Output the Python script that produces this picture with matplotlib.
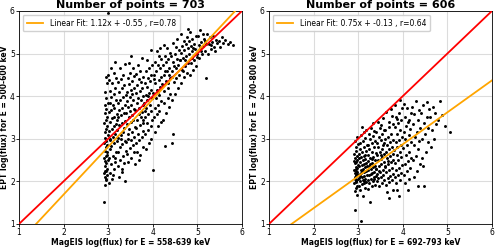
"""
MagEIS vs EPT log(flux) scatter, two energy channels, 1:1 line + linear fit
"""

import numpy as np
import matplotlib
matplotlib.use('Agg')
import matplotlib.pyplot as plt

# left panel: (MagEIS, EPT) log flux
pts_left = [
 (2.91,1.52),(2.92,1.92),(2.95,2.02),(2.93,2.1),(2.97,2.15),(2.91,2.2),(2.94,2.24),(2.98,2.3),(2.92,2.35),(2.96,2.42),
 (2.93,2.48),(2.99,2.5),(2.91,2.55),(2.95,2.6),(2.97,2.68),(2.92,2.72),(2.94,2.8),(2.98,2.85),(2.91,2.9),(2.96,2.95),
 (2.93,3.02),(2.99,3.08),(2.92,3.15),(2.95,3.22),(2.97,3.3),(2.91,3.38),(2.94,3.45),(2.98,3.52),(2.92,3.6),(2.96,3.7),
 (2.93,3.78),(2.99,3.85),(2.95,3.95),(2.92,4.1),(2.97,4.3),(2.94,4.45),(2.99,4.5),(2.93,2.25),(2.96,2.05),(2.98,2.62),
 (3.02,1.95),(3.08,2.05),(3.04,2.2),(3.12,2.3),(3.06,2.4),(3.15,2.45),(3.01,2.55),(3.1,2.6),(3.18,2.7),(3.03,2.75),
 (3.07,2.82),(3.14,2.9),(3.19,2.95),(3.05,3.0),(3.11,3.05),(3.16,3.12),(3.02,3.18),(3.09,3.22),(3.13,3.3),(3.17,3.35),
 (3.04,3.4),(3.08,3.48),(3.12,3.52),(3.19,3.58),(3.01,3.62),(3.06,3.68),(3.14,3.72),(3.1,3.8),(3.03,3.85),(3.17,3.9),
 (3.07,3.98),(3.12,4.05),(3.05,4.12),(3.15,4.2),(3.09,4.3),(3.02,4.38),(3.18,4.42),(3.13,4.55),(3.06,4.65),(3.15,4.8),
 (3.0,5.95),(3.11,2.15),(3.16,2.55),(3.04,2.98),(3.19,3.45),
 (3.38,2.0),(3.24,2.1),(3.3,2.22),(3.22,2.35),(3.35,2.42),(3.27,2.5),(3.33,2.6),(3.21,2.68),(3.39,2.72),(3.26,2.8),
 (3.31,2.88),(3.37,2.95),(3.23,3.02),(3.29,3.08),(3.34,3.15),(3.2,3.2),(3.36,3.25),(3.25,3.32),(3.32,3.38),(3.38,3.42),
 (3.22,3.5),(3.28,3.55),(3.35,3.6),(3.24,3.68),(3.3,3.72),(3.37,3.78),(3.21,3.85),(3.27,3.9),(3.33,3.98),(3.39,4.02),
 (3.25,4.1),(3.31,4.18),(3.36,4.25),(3.23,4.32),(3.29,4.4),(3.34,4.5),(3.26,4.67),(3.38,4.75),(3.32,2.3),(3.28,3.0),
 (3.45,2.45),(3.52,2.55),(3.42,2.65),(3.58,2.7),(3.48,2.78),(3.55,2.85),(3.41,2.92),(3.5,2.98),(3.57,3.05),(3.44,3.1),
 (3.53,3.15),(3.46,3.22),(3.59,3.28),(3.43,3.35),(3.51,3.4),(3.56,3.45),(3.47,3.5),(3.54,3.55),(3.41,3.6),(3.49,3.65),
 (3.58,3.7),(3.45,3.75),(3.52,3.8),(3.43,3.88),(3.56,3.92),(3.48,3.98),(3.54,4.05),(3.42,4.1),(3.5,4.15),(3.58,4.2),
 (3.46,4.28),(3.53,4.35),(3.44,4.42),(3.57,4.48),(3.49,4.55),(3.55,4.65),(3.47,4.78),(3.52,4.95),(3.59,2.4),(3.44,3.0),
 (3.64,2.7),(3.72,2.62),(3.78,2.8),(3.62,2.9),(3.69,2.98),(3.75,3.05),(3.66,3.12),(3.79,3.18),(3.63,3.25),(3.71,3.32),
 (3.77,3.38),(3.65,3.45),(3.73,3.5),(3.68,3.58),(3.76,3.62),(3.61,3.68),(3.7,3.72),(3.79,3.78),(3.64,3.85),(3.74,3.9),
 (3.67,3.95),(3.78,4.0),(3.62,4.08),(3.71,4.12),(3.76,4.2),(3.65,4.25),(3.73,4.32),(3.69,4.4),(3.77,4.45),(3.63,4.52),
 (3.72,4.6),(3.75,4.9),(3.66,4.72),(3.79,3.45),(3.7,2.5),
 (3.84,2.75),(3.92,2.9),(3.97,3.0),(3.82,3.1),(3.89,3.2),(3.95,3.3),(3.86,3.38),(3.99,3.45),(3.83,3.52),(3.9,3.58),
 (3.96,3.65),(3.85,3.72),(3.93,3.78),(3.81,3.85),(3.88,3.9),(3.98,3.95),(3.84,4.02),(3.91,4.08),(3.95,4.15),(3.87,4.22),
 (3.82,4.3),(3.94,4.35),(3.89,4.42),(3.97,4.5),(3.85,4.58),(3.92,4.65),(3.99,4.72),(3.88,4.85),(3.95,5.08),(4.0,2.27),
 (3.83,3.65),(3.9,4.0),
 (4.05,3.15),(4.12,3.3),(4.18,3.4),(4.02,3.5),(4.09,3.58),(4.15,3.65),(4.04,3.72),(4.11,3.8),(4.19,3.88),(4.07,3.95),
 (4.14,4.02),(4.01,4.08),(4.1,4.15),(4.17,4.22),(4.06,4.3),(4.13,4.38),(4.19,4.45),(4.03,4.5),(4.08,4.58),(4.16,4.65),
 (4.11,4.72),(4.05,4.8),(4.18,4.88),(4.14,4.95),(4.09,5.05),(4.17,5.12),(4.02,4.4),(4.12,4.1),
 (4.27,2.84),(4.22,3.45),(4.3,3.6),(4.37,3.75),(4.24,3.85),(4.33,3.95),(4.39,4.05),(4.26,4.12),(4.35,4.2),(4.21,4.28),
 (4.29,4.35),(4.38,4.42),(4.25,4.5),(4.32,4.58),(4.36,4.65),(4.23,4.72),(4.3,4.8),(4.34,4.88),(4.27,4.95),(4.39,5.02),
 (4.31,5.14),(4.24,5.2),(4.36,4.5),(4.28,4.6),(4.33,4.3),
 (4.43,2.9),(4.45,3.12),(4.42,3.9),(4.5,4.05),(4.56,4.2),(4.47,4.32),(4.53,4.42),(4.59,4.5),(4.44,4.58),(4.51,4.65),
 (4.57,4.72),(4.46,4.8),(4.54,4.88),(4.41,4.95),(4.49,5.0),(4.58,5.08),(4.52,5.15),(4.45,5.25),(4.55,5.35),(4.48,4.7),
 (4.6,4.85),(4.42,4.45),
 (4.63,4.3),(4.7,4.45),(4.77,4.55),(4.65,4.62),(4.72,4.7),(4.79,4.78),(4.62,4.85),(4.68,4.9),(4.75,4.95),(4.64,5.02),
 (4.71,5.08),(4.78,5.12),(4.66,5.18),(4.74,5.22),(4.69,5.3),(4.76,5.38),(4.63,5.45),(4.8,5.58),(4.73,4.85),(4.67,4.6),
 (4.83,4.5),(4.9,4.62),(4.97,4.7),(4.85,4.78),(4.92,4.85),(4.99,4.92),(4.82,4.98),(4.88,5.05),(4.95,5.1),(4.86,5.18),
 (4.93,5.22),(4.81,5.3),(4.89,5.35),(4.96,5.42),(4.84,5.5),(4.91,5.12),(4.98,5.0),(4.87,4.9),
 (5.06,5.56),(5.03,4.9),(5.1,4.98),(5.17,5.05),(5.05,5.12),(5.12,5.18),(5.19,5.22),(5.08,5.28),(5.15,5.35),(5.02,5.4),
 (5.13,5.45),(5.2,4.42),(5.09,5.05),(5.16,5.3),(5.04,5.2),
 (5.23,5.0),(5.3,5.1),(5.38,5.15),(5.25,5.22),(5.33,5.28),(5.41,5.32),(5.28,5.38),(5.36,5.4),(5.22,5.45),(5.43,5.25),
 (5.31,5.2),(5.39,5.05),
 (5.48,5.3),(5.55,5.38),(5.62,5.32),(5.68,5.22),(5.74,5.28),(5.8,5.2),(5.58,5.25),(5.5,5.15),
]

# right panel
pts_right = [
 (2.93,1.32),(2.97,1.67),(2.92,1.78),(2.95,1.85),(2.98,1.9),(2.91,1.95),(2.94,2.0),(2.96,2.03),(2.99,2.06),(2.92,2.1),
 (2.95,2.13),(2.97,2.17),(2.93,2.2),(2.98,2.23),(2.91,2.27),(2.96,2.3),(2.94,2.34),(2.99,2.38),(2.92,2.42),(2.95,2.46),
 (2.97,2.5),(2.93,2.55),(2.98,2.6),(2.91,2.65),(2.96,2.72),(2.94,2.8),(2.99,2.88),(2.92,2.95),(2.97,3.05),(2.95,2.15),
 (2.93,2.05),(2.98,2.32),(2.91,2.48),(2.96,1.98),(2.94,2.25),
 (3.07,1.08),(3.1,1.65),(3.04,1.8),(3.15,1.85),(3.02,1.9),(3.08,1.93),(3.12,1.96),(3.18,1.98),(3.05,2.0),(3.11,2.03),
 (3.16,2.05),(3.01,2.08),(3.09,2.1),(3.14,2.12),(3.19,2.15),(3.03,2.17),(3.07,2.2),(3.13,2.22),(3.17,2.25),(3.06,2.27),
 (3.1,2.3),(3.15,2.33),(3.02,2.35),(3.08,2.38),(3.12,2.4),(3.18,2.43),(3.04,2.46),(3.11,2.5),(3.16,2.53),(3.06,2.56),
 (3.13,2.6),(3.01,2.64),(3.09,2.68),(3.17,2.72),(3.05,2.76),(3.12,2.8),(3.19,2.85),(3.03,2.9),(3.1,2.95),(3.15,3.02),
 (3.07,3.08),(3.13,3.15),(3.09,3.28),(3.18,3.2),(3.04,2.12),(3.14,2.0),(3.08,2.25),(3.19,2.35),(3.02,2.55),(3.16,2.62),
 (3.26,1.51),(3.23,1.82),(3.3,1.88),(3.37,1.92),(3.25,1.96),(3.33,2.0),(3.21,2.03),(3.28,2.06),(3.35,2.1),(3.39,2.13),
 (3.24,2.16),(3.31,2.2),(3.36,2.23),(3.22,2.26),(3.29,2.3),(3.34,2.33),(3.38,2.36),(3.26,2.4),(3.32,2.44),(3.21,2.48),
 (3.37,2.5),(3.27,2.54),(3.33,2.58),(3.23,2.62),(3.39,2.66),(3.3,2.7),(3.25,2.75),(3.35,2.8),(3.22,2.85),(3.31,2.9),
 (3.38,2.95),(3.27,3.0),(3.34,3.06),(3.24,3.12),(3.36,3.18),(3.29,3.25),(3.33,3.38),(3.28,2.18),(3.36,2.05),(3.24,2.35),
 (3.32,2.52),(3.39,2.28),
 (3.47,1.88),(3.53,1.95),(3.42,2.0),(3.58,2.03),(3.45,2.07),(3.51,2.1),(3.56,2.14),(3.43,2.18),(3.49,2.22),(3.55,2.26),
 (3.41,2.3),(3.59,2.33),(3.46,2.37),(3.52,2.41),(3.57,2.45),(3.44,2.49),(3.5,2.53),(3.54,2.57),(3.42,2.61),(3.58,2.65),
 (3.48,2.7),(3.53,2.75),(3.45,2.8),(3.56,2.85),(3.43,2.9),(3.51,2.96),(3.59,3.0),(3.47,3.05),(3.54,3.1),(3.41,3.15),
 (3.57,3.2),(3.49,3.26),(3.51,3.33),(3.44,3.4),(3.55,3.48),(3.46,2.25),(3.52,2.62),(3.58,2.9),
 (3.64,1.74),(3.7,1.6),(3.78,1.8),(3.62,1.92),(3.68,1.98),(3.75,2.03),(3.66,2.08),(3.72,2.12),(3.79,2.17),(3.63,2.22),
 (3.7,2.27),(3.76,2.31),(3.61,2.36),(3.67,2.4),(3.74,2.45),(3.79,2.5),(3.65,2.55),(3.71,2.6),(3.77,2.65),(3.62,2.7),
 (3.69,2.75),(3.75,2.8),(3.64,2.86),(3.72,2.92),(3.78,2.98),(3.66,3.05),(3.73,3.12),(3.61,3.2),(3.7,3.28),(3.76,3.53),
 (3.68,3.4),(3.63,3.62),(3.74,3.7),(3.79,3.35),(3.67,2.48),
 (3.91,1.65),(3.87,1.8),(3.84,1.95),(3.93,2.02),(3.82,2.1),(3.89,2.15),(3.96,2.2),(3.85,2.26),(3.92,2.32),(3.99,2.38),
 (3.83,2.44),(3.9,2.5),(3.97,2.56),(3.86,2.62),(3.94,2.68),(3.81,2.74),(3.88,2.8),(3.95,2.86),(3.84,2.92),(3.91,2.98),
 (3.98,3.05),(3.87,3.12),(3.93,3.2),(3.82,3.28),(3.89,3.36),(3.96,3.44),(3.85,3.52),(3.92,3.6),(3.87,3.47),(3.99,3.72),
 (3.94,3.92),(3.83,3.8),
 (4.12,1.8),(4.05,1.95),(4.15,2.05),(4.02,2.15),(4.09,2.25),(4.17,2.32),(4.04,2.4),(4.11,2.48),(4.19,2.55),(4.07,2.62),
 (4.14,2.7),(4.01,2.78),(4.1,2.85),(4.18,2.92),(4.06,3.0),(4.13,3.08),(4.03,3.15),(4.16,3.22),(4.08,3.3),(4.12,3.4),
 (4.05,3.5),(4.18,3.6),(4.1,3.72),(4.02,3.82),(4.15,3.45),
 (4.34,1.9),(4.25,2.1),(4.32,2.25),(4.38,2.4),(4.22,2.5),(4.29,2.6),(4.34,2.77),(4.24,2.85),(4.37,2.95),(4.27,3.05),
 (4.31,3.15),(4.39,3.25),(4.23,3.35),(4.33,3.45),(4.26,3.58),(4.36,3.68),(4.3,3.88),(4.21,3.75),
 (4.48,1.9),(4.45,2.35),(4.42,2.55),(4.52,2.7),(4.57,2.93),(4.44,3.0),(4.5,3.12),(4.56,3.25),(4.47,3.38),(4.54,3.5),
 (4.41,3.6),(4.59,3.7),(4.54,3.86),(4.46,3.78),
 (4.63,2.8),(4.7,3.0),(4.66,3.2),(4.75,3.35),(4.62,3.5),(4.72,3.6),(4.8,3.45),(4.68,3.75),(4.83,3.88),(4.95,3.3),
 (5.06,3.16),(4.88,3.55),
]

n_points = [703, 606]
fit_slope = [1.12, 0.75]
fit_icpt = [-0.55, -0.13]
fit_r = [0.78, 0.64]
x_labels = ['MagEIS log(flux) for E = 558-639 keV', 'MagEIS log(flux) for E = 692-793 keV']
y_labels = ['EPT log(flux) for E = 500-600 keV', 'EPT log(flux) for E = 700-800 keV']
ticks = [1, 2, 3, 4, 5, 6]


def main():
    fig = plt.figure(figsize=(5.0, 2.48), dpi=100)
    axes = [fig.add_axes([0.038, 0.097, 0.446, 0.859]),
            fig.add_axes([0.538, 0.097, 0.446, 0.859])]

    line = np.array([1.0, 6.0])
    for i, (ax, pts) in enumerate(zip(axes, [pts_left, pts_right])):
        pts = np.array(pts)
        ax.grid(True, color='#dcdcdc', lw=0.8, zorder=0)
        ax.scatter(pts[:, 0], pts[:, 1], s=4.5, c='black', lw=0, zorder=2)
        ax.plot(line, line, color='red', lw=1.3, zorder=3)
        ax.plot(line, fit_slope[i] * line + fit_icpt[i], color='orange', lw=1.3, zorder=3,
                label='Linear Fit: %.2fx + %.2f , r=%.2f' % (fit_slope[i], fit_icpt[i], fit_r[i]))
        ax.set_xlim(1, 6)
        ax.set_ylim(1, 6)
        ax.set_xticks(ticks)
        ax.set_yticks(ticks)
        ax.tick_params(labelsize=5.5, length=2, width=0.6, pad=1)
        for sp in ax.spines.values():
            sp.set_linewidth(0.6)
        ax.set_title('Number of points = %d' % n_points[i], fontsize=8, fontweight='bold', pad=2)
        ax.set_xlabel(x_labels[i], fontsize=5.5, fontweight='bold', labelpad=0.5)
        ax.set_ylabel(y_labels[i], fontsize=5.5, fontweight='bold', labelpad=1)
        ax.legend(loc='upper left', fontsize=5.5, handlelength=2.2, borderpad=0.5, framealpha=0.9)

    fig.savefig('out.png', dpi=100)


if __name__ == '__main__':
    main()
